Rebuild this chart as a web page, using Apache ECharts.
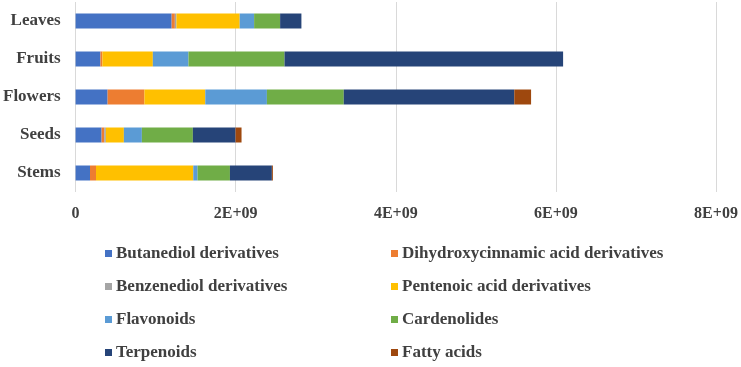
<!DOCTYPE html>
<html>
<head>
<meta charset="utf-8">
<script src="https://cdn.jsdelivr.net/npm/echarts@6/dist/echarts.min.js"></script>
<style>
  html, body { margin: 0; padding: 0; background: #fff; }
  #chart { width: 741px; height: 367px; }
</style>
</head>
<body>
<div id="chart"></div>
<script>
// plant parts, top to bottom
const parts = ['Leaves', 'Fruits', 'Flowers', 'Seeds', 'Stems'];
const xTicks = [0, 2e9, 4e9, 6e9, 8e9];

// values per compound class, same order as parts
const butanediol   = [1.20e9, 0.31e9, 0.40e9, 0.325e9, 0.18e9];
const dihydroxy    = [0.04e9, 0.025e9, 0.46e9, 0.033e9, 0.075e9];
const benzenediol  = [0.02e9, 0, 0, 0.02e9, 0];
const pentenoic    = [0.79e9, 0.63e9, 0.76e9, 0.225e9, 1.215e9];
const flavonoids   = [0.18e9, 0.445e9, 0.77e9, 0.225e9, 0.054e9];
const cardenolides = [0.325e9, 1.20e9, 0.96e9, 0.637e9, 0.404e9];
const terpenoids   = [0.266e9, 3.48e9, 2.13e9, 0.533e9, 0.524e9];
const fattyAcids   = [0, 0, 0.21e9, 0.075e9, 0.0125e9];

const seriesDefs = [
    { name: 'Butanediol derivatives', data: butanediol, color: '#4472C4' },
    { name: 'Dihydroxycinnamic acid derivatives', data: dihydroxy, color: '#ED7D31' },
    { name: 'Benzenediol derivatives', data: benzenediol, color: '#A5A5A5' },
    { name: 'Pentenoic acid derivatives', data: pentenoic, color: '#FFC000' },
    { name: 'Flavonoids', data: flavonoids, color: '#5B9BD5' },
    { name: 'Cardenolides', data: cardenolides, color: '#70AD47' },
    { name: 'Terpenoids', data: terpenoids, color: '#264478' },
    { name: 'Fatty acids', data: fattyAcids, color: '#9E480E' }
];

const font = '"Liberation Serif", "Times New Roman", serif';
const textColor = '#404040';

const legendCommon = {
    orient: 'vertical',
    top: 245,
    height: 130,
    itemWidth: 7,
    itemHeight: 7,
    itemGap: 16,
    icon: 'rect',
    padding: 0,
    textStyle: { fontFamily: font, fontSize: 17, lineHeight: 17, fontWeight: 'bold', color: textColor, padding: [0, 0, 0, -1] },
    selectedMode: false
};

const chart = echarts.init(document.getElementById('chart'));
chart.setOption({
    animation: false,
    backgroundColor: '#fff',
    grid: { left: 75, right: 25, top: 2, height: 190 },
    legend: [
        Object.assign({}, legendCommon, {
            left: 105,
            data: [seriesDefs[0].name, seriesDefs[2].name, seriesDefs[4].name, seriesDefs[6].name]
        }),
        Object.assign({}, legendCommon, {
            left: 391,
            data: [seriesDefs[1].name, seriesDefs[3].name, seriesDefs[5].name, seriesDefs[7].name]
        })
    ],
    xAxis: {
        type: 'value',
        min: xTicks[0],
        max: xTicks[xTicks.length - 1],
        interval: xTicks[1] - xTicks[0],
        axisLine: { show: false },
        axisTick: { show: false },
        splitLine: { lineStyle: { color: '#d9d9d9', width: 1 } },
        axisLabel: {
            margin: 14,
            fontFamily: font,
            fontSize: 16,
            fontWeight: 'bold',
            color: textColor,
            formatter: v => v === 0 ? '0' : (v / 1e9) + 'E+09'
        }
    },
    yAxis: {
        type: 'category',
        inverse: true,
        data: parts,
        axisLine: { show: false },
        axisTick: { show: false },
        axisLabel: {
            margin: 15,
            fontFamily: font,
            fontSize: 17,
            fontWeight: 'bold',
            color: textColor
        }
    },
    series: seriesDefs.map(s => ({
        name: s.name,
        type: 'bar',
        stack: 'total',
        data: s.data,
        barWidth: 15,
        itemStyle: { color: s.color },
        emphasis: { disabled: true }
    }))
});
</script>
</body>
</html>
